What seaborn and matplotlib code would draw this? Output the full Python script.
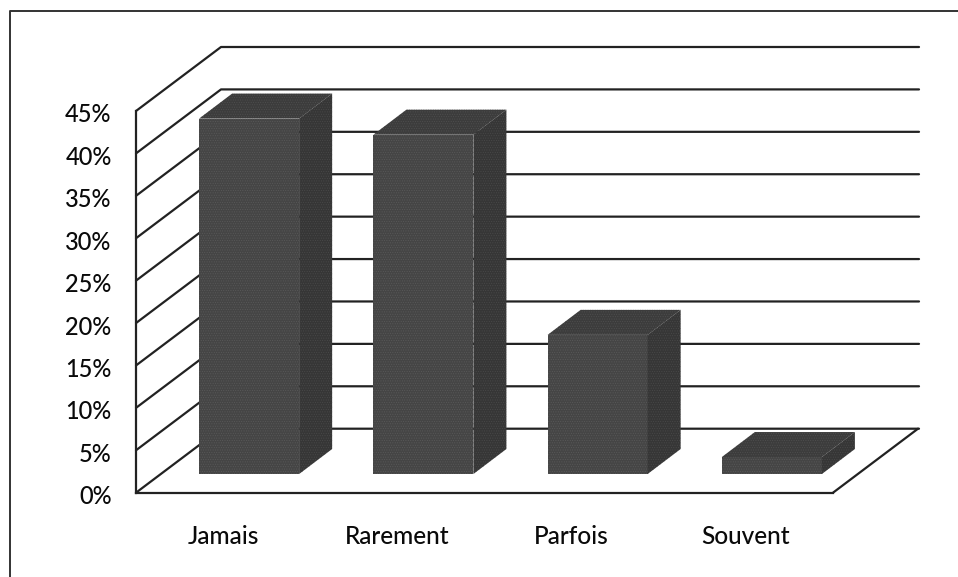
import matplotlib
matplotlib.use('Agg')
import matplotlib.pyplot as plt
import pandas as pd
import seaborn as sns
from matplotlib.lines import Line2D
from matplotlib.patches import Polygon
from matplotlib.transforms import Affine2D, IdentityTransform

categories = ['Jamais', 'Rarement', 'Parfois', 'Souvent']
values = [41.9, 40.0, 16.4, 2.0]
ticks = [0, 5, 10, 15, 20, 25, 30, 35, 40, 45]

W, H = 958, 577
WALL_DX, WALL_DY = 85, 64   # how far the back wall sits behind the axis, px
BAR_DX, BAR_DY = 26, 18.7   # front of the bars
DEPTH_DX, DEPTH_DY = 33, 25

sns.set_theme(style='white')
plt.rcParams['font.family'] = ['Lato', 'DejaVu Sans']
plt.rcParams['hatch.linewidth'] = 0.4

fig = plt.figure(figsize=(W / 100, H / 100), dpi=100)
ax = fig.add_axes([136 / W, (H - 492.7) / H, (833 - 136) / W, (492.7 - 111) / H])

df = pd.DataFrame({'cat': categories, 'val': values})
sns.barplot(data=df, x='cat', y='val', color='#454545', saturation=1, width=0.574, ax=ax, zorder=5)

ax.set_xlim(-0.5, 3.5)
ax.set_ylim(0, 45)
ax.set_yticks(ticks)
ax.set_yticklabels([f'{t}%' for t in ticks])
ax.set_xlabel('')
ax.set_ylabel('')
ax.tick_params(axis='y', length=0, pad=17.5, labelsize=17, colors='#0a0a0a')
ax.tick_params(axis='x', length=0, pad=23, labelsize=17.6, colors='#0a0a0a')
for lab in ax.get_xticklabels() + ax.get_yticklabels():
    lab.set_fontweight('medium')
for lab in ax.get_yticklabels():
    lab.set_transform(lab.get_transform() + Affine2D().translate(0, -2))
ax.patch.set_visible(False)
for s in ['top', 'right']:
    ax.spines[s].set_visible(False)
for s in ['left', 'bottom']:
    ax.spines[s].set_color('#222222')
    ax.spines[s].set_linewidth(1.6)

fig.canvas.draw()
to_px = ax.transData.transform
px = IdentityTransform()
line_kw = dict(color='#222222', lw=1.6, transform=px, zorder=2, clip_on=False)

# back wall grid and the left wall diagonals
for t in ticks:
    x0, y0 = to_px((-0.5, t))
    x1, y1 = to_px((3.5, t))
    ax.add_line(Line2D([x0, x0 + WALL_DX, x1 + WALL_DX + 1], [y0, y0 + WALL_DY, y1 + WALL_DY], **line_kw))
x1, y1 = to_px((3.5, 0))
ax.add_line(Line2D([x1, x1 + WALL_DX], [y1, y1 + WALL_DY], **line_kw))

# frame of the picture
fig.add_artist(Line2D([10, 10, W], [0, H - 11, H - 11], color='#333333', lw=1.4, transform=px))

# 3D faces of the bars
shift = Affine2D().translate(BAR_DX, BAR_DY)
for bar in ax.patches:
    (xa, ya), (xb, yb) = to_px(bar.get_bbox().get_points())
    xa, xb, ya, yb = xa + BAR_DX, xb + BAR_DX, ya + BAR_DY, yb + BAR_DY
    bar.set_transform(ax.transData + shift)
    bar.set_clip_on(False)
    bar.set_hatch('.......')
    bar.set_edgecolor('#5a5a5a')
    bar.set_linewidth(0)
    side = [(xb, ya), (xb + DEPTH_DX, ya + DEPTH_DY), (xb + DEPTH_DX, yb + DEPTH_DY), (xb, yb)]
    top = [(xa, yb), (xa + DEPTH_DX, yb + DEPTH_DY), (xb + DEPTH_DX, yb + DEPTH_DY), (xb, yb)]
    ax.add_patch(Polygon(side, closed=True, fc='#363636', ec='#4a4a4a', hatch='.......', lw=0, transform=px, zorder=5, clip_on=False))
    ax.add_patch(Polygon(top, closed=True, fc='#3c3c3c', ec='#505050', hatch='.......', lw=0, transform=px, zorder=5, clip_on=False))

fig.savefig('out.png', dpi=100, facecolor='white')
